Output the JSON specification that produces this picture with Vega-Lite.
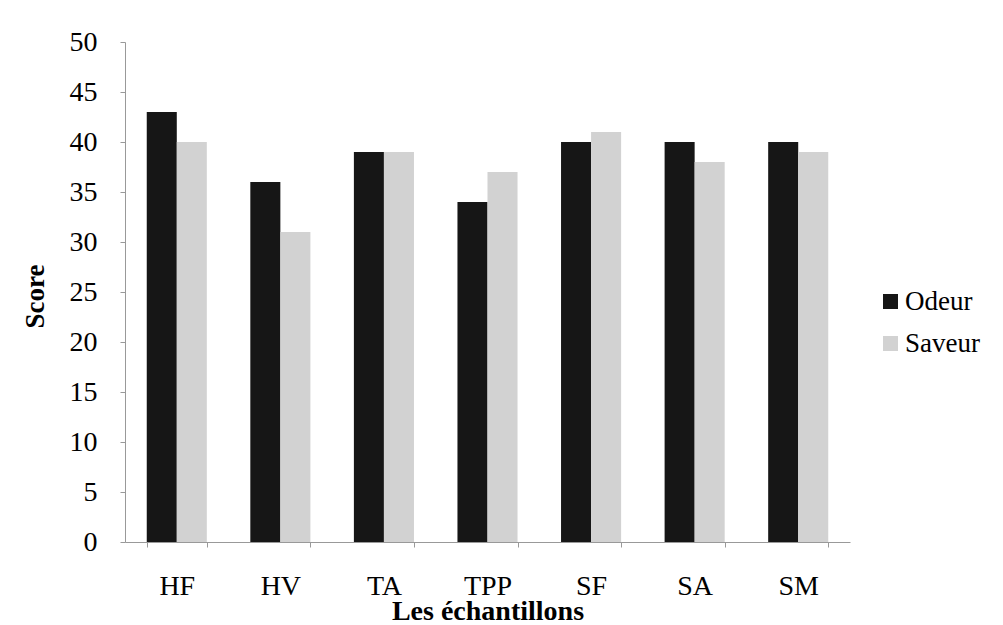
{
  "$schema": "https://vega.github.io/schema/vega-lite/v6.json",
  "autosize": "none",
  "width": 725,
  "height": 500,
  "padding": {"left": 125, "top": 42, "right": 153, "bottom": 83},
  "background": "white",
  "config": {
    "view": {"stroke": null},
    "font": "Liberation Serif"
  },
  "data": {
    "values": [
      {"echantillon": "HF", "serie": "Odeur", "score": 43},
      {"echantillon": "HF", "serie": "Saveur", "score": 40},
      {"echantillon": "HV", "serie": "Odeur", "score": 36},
      {"echantillon": "HV", "serie": "Saveur", "score": 31},
      {"echantillon": "TA", "serie": "Odeur", "score": 39},
      {"echantillon": "TA", "serie": "Saveur", "score": 39},
      {"echantillon": "TPP", "serie": "Odeur", "score": 34},
      {"echantillon": "TPP", "serie": "Saveur", "score": 37},
      {"echantillon": "SF", "serie": "Odeur", "score": 40},
      {"echantillon": "SF", "serie": "Saveur", "score": 41},
      {"echantillon": "SA", "serie": "Odeur", "score": 40},
      {"echantillon": "SA", "serie": "Saveur", "score": 38},
      {"echantillon": "SM", "serie": "Odeur", "score": 40},
      {"echantillon": "SM", "serie": "Saveur", "score": 39}
    ]
  },
  "mark": {"type": "bar"},
  "encoding": {
    "x": {
      "field": "echantillon",
      "type": "nominal",
      "sort": ["HF", "HV", "TA", "TPP", "SF", "SA", "SM"],
      "scale": {"paddingInner": 0.42, "paddingOuter": 0.21},
      "axis": {
        "title": "Les échantillons",
        "titleFont": "Liberation Serif",
        "titleFontSize": 28,
        "titleFontWeight": "bold",
        "titleColor": "black",
        "titleBaseline": "alphabetic",
        "titleY": 77,
        "labelAngle": 0,
        "labelFont": "Liberation Serif",
        "labelFontSize": 28,
        "labelColor": "black",
        "labelPadding": 25,
        "tickBand": "extent",
        "tickSize": 5,
        "tickColor": "#999999",
        "domainColor": "#999999",
        "domainWidth": 1
      }
    },
    "xOffset": {
      "field": "serie",
      "type": "nominal",
      "scale": {"paddingInner": 0, "paddingOuter": 0}
    },
    "y": {
      "field": "score",
      "type": "quantitative",
      "scale": {"domain": [0, 50], "nice": false},
      "axis": {
        "title": "Score",
        "titleFont": "Liberation Serif",
        "titleFontSize": 27,
        "titleFontWeight": "bold",
        "titleColor": "black",
        "titleAngle": -90,
        "titleBaseline": "alphabetic",
        "titleAlign": "center",
        "titleX": -82,
        "titleY": 254,
        "values": [0, 5, 10, 15, 20, 25, 30, 35, 40, 45, 50],
        "grid": false,
        "labelFont": "Liberation Serif",
        "labelFontSize": 28,
        "labelColor": "black",
        "labelPadding": 23,
        "tickSize": 5,
        "tickColor": "#999999",
        "domainColor": "#999999",
        "domainWidth": 1
      }
    },
    "color": {
      "field": "serie",
      "type": "nominal",
      "scale": {"domain": ["Odeur", "Saveur"], "range": ["#161616", "#d2d2d2"]},
      "legend": {
        "title": null,
        "orient": "none",
        "legendX": 752,
        "legendY": 246,
        "symbolType": "square",
        "symbolSize": 225,
        "symbolStrokeWidth": 0,
        "labelFont": "Liberation Serif",
        "labelFontSize": 27,
        "labelColor": "black",
        "labelOffset": 1,
        "rowPadding": 14
      }
    }
  }
}
